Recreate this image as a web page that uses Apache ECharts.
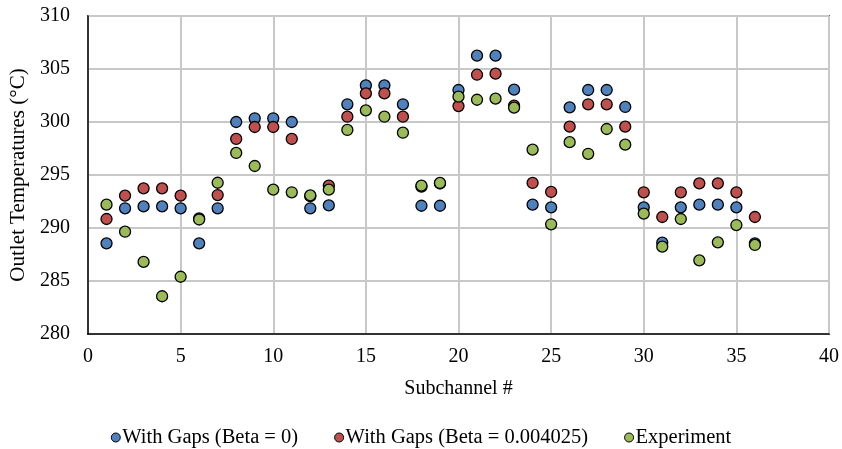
<!DOCTYPE html>
<html><head><meta charset="utf-8">
<script src="https://cdn.jsdelivr.net/npm/echarts@6/dist/echarts.min.js"></script>
<style>html,body{margin:0;padding:0;background:#fff}#c{width:842px;height:449px}</style>
</head><body><div id="c"></div>
<script>
const subchannels = [1,2,3,4,5,6,7,8,9,10,11,12,13,14,15,16,17,18,19,20,21,22,23,24,25,26,27,28,29,30,31,32,33,34,35,36];
const beta0 = [288.55,291.86,292.04,292.04,291.86,288.55,291.86,300.0,300.35,300.35,300.0,291.86,292.14,301.67,303.46,303.46,301.67,292.1,292.1,303.02,306.26,306.26,303.05,292.2,291.95,301.38,303.02,303.02,301.42,291.95,288.62,291.95,292.2,292.2,291.95,288.55];
const betaG = [290.85,293.05,293.74,293.74,293.05,290.9,293.11,298.4,299.53,299.53,298.4,293.0,294.0,300.5,302.7,302.7,300.5,293.9,294.2,301.5,304.46,304.56,301.54,294.25,293.4,299.56,301.67,301.67,299.56,293.37,291.04,293.37,294.21,294.21,293.37,291.04];
const experiment = [292.2,289.65,286.8,283.56,285.4,290.8,294.27,297.08,295.85,293.62,293.37,293.08,293.62,299.25,301.1,300.5,298.99,294.0,294.25,302.39,302.1,302.2,301.35,297.39,290.35,298.1,297.0,299.34,297.86,291.35,288.24,290.85,286.95,288.65,290.28,288.4];
const seriesNames = ['With Gaps (Beta = 0)','With Gaps (Beta = 0.004025)','Experiment'];
const colors = ['#4F81BD','#C0504D','#9BBB59'];
const xTicks = [0,40,5];
const yTicks = [280,310,5];

const font = '"Liberation Serif","Times New Roman",serif';
const chart = echarts.init(document.getElementById('c'));
const mk = (name, vals, col) => ({
  name, type: 'scatter', symbol: 'circle', symbolSize: 11,
  data: subchannels.map((x,i)=>[x, vals[i]]),
  itemStyle: { color: col, borderColor: '#000', borderWidth: 1.3, opacity: 1 }
});
chart.setOption({
  animation: false,
  backgroundColor: '#fff',
  grid: { left: 88, right: 12, top: 16, bottom: 115, containLabel: false, show: true, borderColor: '#000', borderWidth: 1.5 },
  xAxis: {
    type: 'value', min: xTicks[0], max: xTicks[1], interval: xTicks[2],
    name: 'Subchannel #', nameLocation: 'middle', nameGap: 45,
    nameTextStyle: { fontFamily: font, fontSize: 20, color: '#000' },
    axisLine: { show: true, lineStyle: { color: '#000', width: 1.5 } },
    axisTick: { show: false },
    axisLabel: { fontFamily: font, fontSize: 20, color: '#000', margin: 13 },
    splitLine: { show: true, lineStyle: { color: '#c8c8c8', width: 2 } }
  },
  yAxis: {
    type: 'value', min: yTicks[0], max: yTicks[1], interval: yTicks[2],
    name: 'Outlet Temperatures (°C)', nameLocation: 'middle', nameGap: 52,
    nameTextStyle: { fontFamily: font, fontSize: 21, color: '#000' },
    axisLine: { show: true, lineStyle: { color: '#000', width: 1.5 } },
    axisTick: { show: false },
    axisLabel: { fontFamily: font, fontSize: 20, color: '#000', margin: 18 },
    splitLine: { show: true, lineStyle: { color: '#c8c8c8', width: 2 } }
  },
  legend: {
    top: 422, left: 'center', itemWidth: 9, itemHeight: 9, itemGap: 36,
    icon: 'circle',
    textStyle: { fontFamily: font, fontSize: 20.5, color: '#000', padding: [0,0,0,-3] },
    itemStyle: { borderColor: '#000', borderWidth: 1 },
    data: seriesNames
  },
  series: [mk(seriesNames[0], beta0, colors[0]), mk(seriesNames[1], betaG, colors[1]), mk(seriesNames[2], experiment, colors[2])]
});
</script></body></html>
